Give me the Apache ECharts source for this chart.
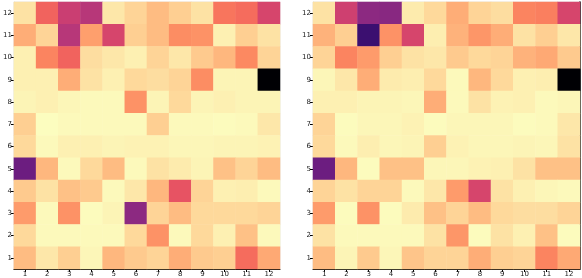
<!DOCTYPE html>
<html>
<head>
<meta charset="utf-8">
<script src="https://cdn.jsdelivr.net/npm/echarts@6/dist/echarts.min.js"></script>
<style>
html,body{margin:0;padding:0;background:#fff;}
#chart{width:582px;height:278px;}
</style>
</head>
<body>
<div id="chart"></div>
<script>
// categories
const xLabels = ['1','2','3','4','5','6','7','8','9','10','11','12'];
const yLabels = ['1','2','3','4','5','6','7','8','9','10','11','12'];

// Left heatmap values, rows listed from top (12) to bottom (1), columns 1..12
const leftRows = [
  [6, 33, 45, 50, 5, 9, 14, 10, 6, 29, 31, 42],
  [17, 9, 50, 20, 42, 10, 14, 24, 23, 3, 10, 6],
  [3, 26, 33, 7, 5, 3, 9, 5, 11, 15, 25, 9],
  [3, 3, 17, 6, 3, 8, 7, 9, 24, 2, 2, 100],
  [2, 3, 1.5, 1, 1, 23, 2, 8, 2, 3, 2, 2],
  [10, 0, 1, 1, 1, 1, 10, 1, 1, 0.5, 1, 5],
  [8, 1, 3, 3, 2, 2.5, 2.5, 1.5, 1.5, 2, 2, 2.5],
  [68, 15, 1, 8, 14, 1, 6, 4, 2, 13, 9, 14],
  [11, 6, 13, 11, 1, 5, 15, 37, 9, 3, 3.5, 1],
  [21, 1, 23, 0.5, 2, 60, 9, 14, 8, 8, 8, 9],
  [8, 1, 1, 1, 1, 8, 23, 1, 8, 3, 13, 1],
  [14, 5, 10, 1.5, 15, 11, 9, 17, 11, 10, 31, 18]
];

// Right heatmap values, rows listed from top (12) to bottom (1), columns 1..12
const rightRows = [
  [6, 44, 60, 61, 4, 8, 17, 9, 7, 26, 27, 42],
  [16, 10, 80, 23, 42, 3.5, 16, 22, 17, 6, 10, 5],
  [9, 26, 21, 10, 6, 5, 11, 8, 9, 16, 18, 11],
  [1.5, 5, 17, 4, 3.5, 8, 1, 15, 8, 3, 3.5, 100],
  [3, 3, 2, 2, 1.5, 17, 1, 6, 2.5, 3, 1, 1.5],
  [9, 0.5, 1.5, 1.5, 2.5, 0.5, 1.5, 1.5, 1.5, 0.5, 1, 5],
  [8, 1, 3.5, 1.5, 2, 10, 2.5, 1.5, 1.5, 2, 1.5, 6],
  [68, 15, 0.5, 13, 13, 1.5, 1.5, 2.5, 3, 6, 13, 13],
  [9, 6, 9, 9, 1, 5, 21, 42, 6, 3, 1.5, 1],
  [21, 0.5, 23, 0.5, 4, 13, 9, 14, 8, 7, 7, 9],
  [6, 1, 1, 1, 1, 6, 22, 0.5, 6, 3, 13, 0.5],
  [14, 2, 11, 1.5, 12, 9, 9, 17, 10, 9, 26, 18]
];

// magma colormap (reversed: low values light)
const magmaR = ['#fcfdbf','#fde7a9','#fecf92','#feb77e','#fe9f6d','#fc8961','#f7705c','#ed5a5f',
  '#de4968','#ca3e72','#b73779','#a1307e','#8c2981','#782281','#641a80','#51127c','#3b0f70',
  '#251255','#140e36','#07061c','#000004'];

function toData(rows) {
  const out = [];
  const n = rows.length;
  rows.forEach((row, r) => {
    const yi = n - 1 - r;
    row.forEach((v, c) => out.push([c, yi, v]));
  });
  return out;
}

const labelStyle = { fontSize: 7, color: '#222', fontFamily: 'DejaVu Sans' };

function xAxis(gi) {
  return {
    type: 'category', gridIndex: gi, data: xLabels,
    axisLine: { show: true, lineStyle: { color: '#000', width: 1 } },
    axisTick: { show: true, length: 3, alignWithLabel: true, lineStyle: { color: '#000' } },
    axisLabel: Object.assign({ margin: 2, interval: 0 }, labelStyle),
    splitLine: { show: false }
  };
}
function yAxis(gi, lineColor) {
  return {
    type: 'category', gridIndex: gi, data: yLabels,
    axisLine: { show: true, lineStyle: { color: lineColor, width: 1 } },
    axisTick: { show: true, length: 3, alignWithLabel: true, lineStyle: { color: '#000' } },
    axisLabel: Object.assign({ margin: 2, interval: 0 }, labelStyle),
    splitLine: { show: false }
  };
}

const chart = echarts.init(document.getElementById('chart'), null, { renderer: 'canvas' });
chart.setOption({
  animation: false,
  backgroundColor: '#fff',
  grid: [
    { left: 12, top: 2, width: 268, height: 267, show: true, borderColor: '#e6e6e6', borderWidth: 1, backgroundColor: 'transparent' },
    { left: 313, top: 2, width: 267, height: 267, show: true, borderColor: '#e6e6e6', borderWidth: 1, backgroundColor: 'transparent' }
  ],
  xAxis: [xAxis(0), xAxis(1)],
  yAxis: [
    yAxis(0, '#dddddd'),
    yAxis(1, '#dddddd'),
    { type: 'category', gridIndex: 1, position: 'right', data: yLabels,
      axisLine: { show: true, lineStyle: { color: '#000', width: 1.5 } },
      axisTick: { show: false }, axisLabel: { show: false }, splitLine: { show: false } }
  ],
  visualMap: {
    show: false, type: 'continuous', min: 0, max: 100, seriesIndex: [0, 1],
    inRange: { color: magmaR }
  },
  series: [
    { type: 'heatmap', xAxisIndex: 0, yAxisIndex: 0, data: toData(leftRows), itemStyle: { borderWidth: 0 } },
    { type: 'heatmap', xAxisIndex: 1, yAxisIndex: 1, data: toData(rightRows), itemStyle: { borderWidth: 0 } }
  ]
});
</script>
</body>
</html>
